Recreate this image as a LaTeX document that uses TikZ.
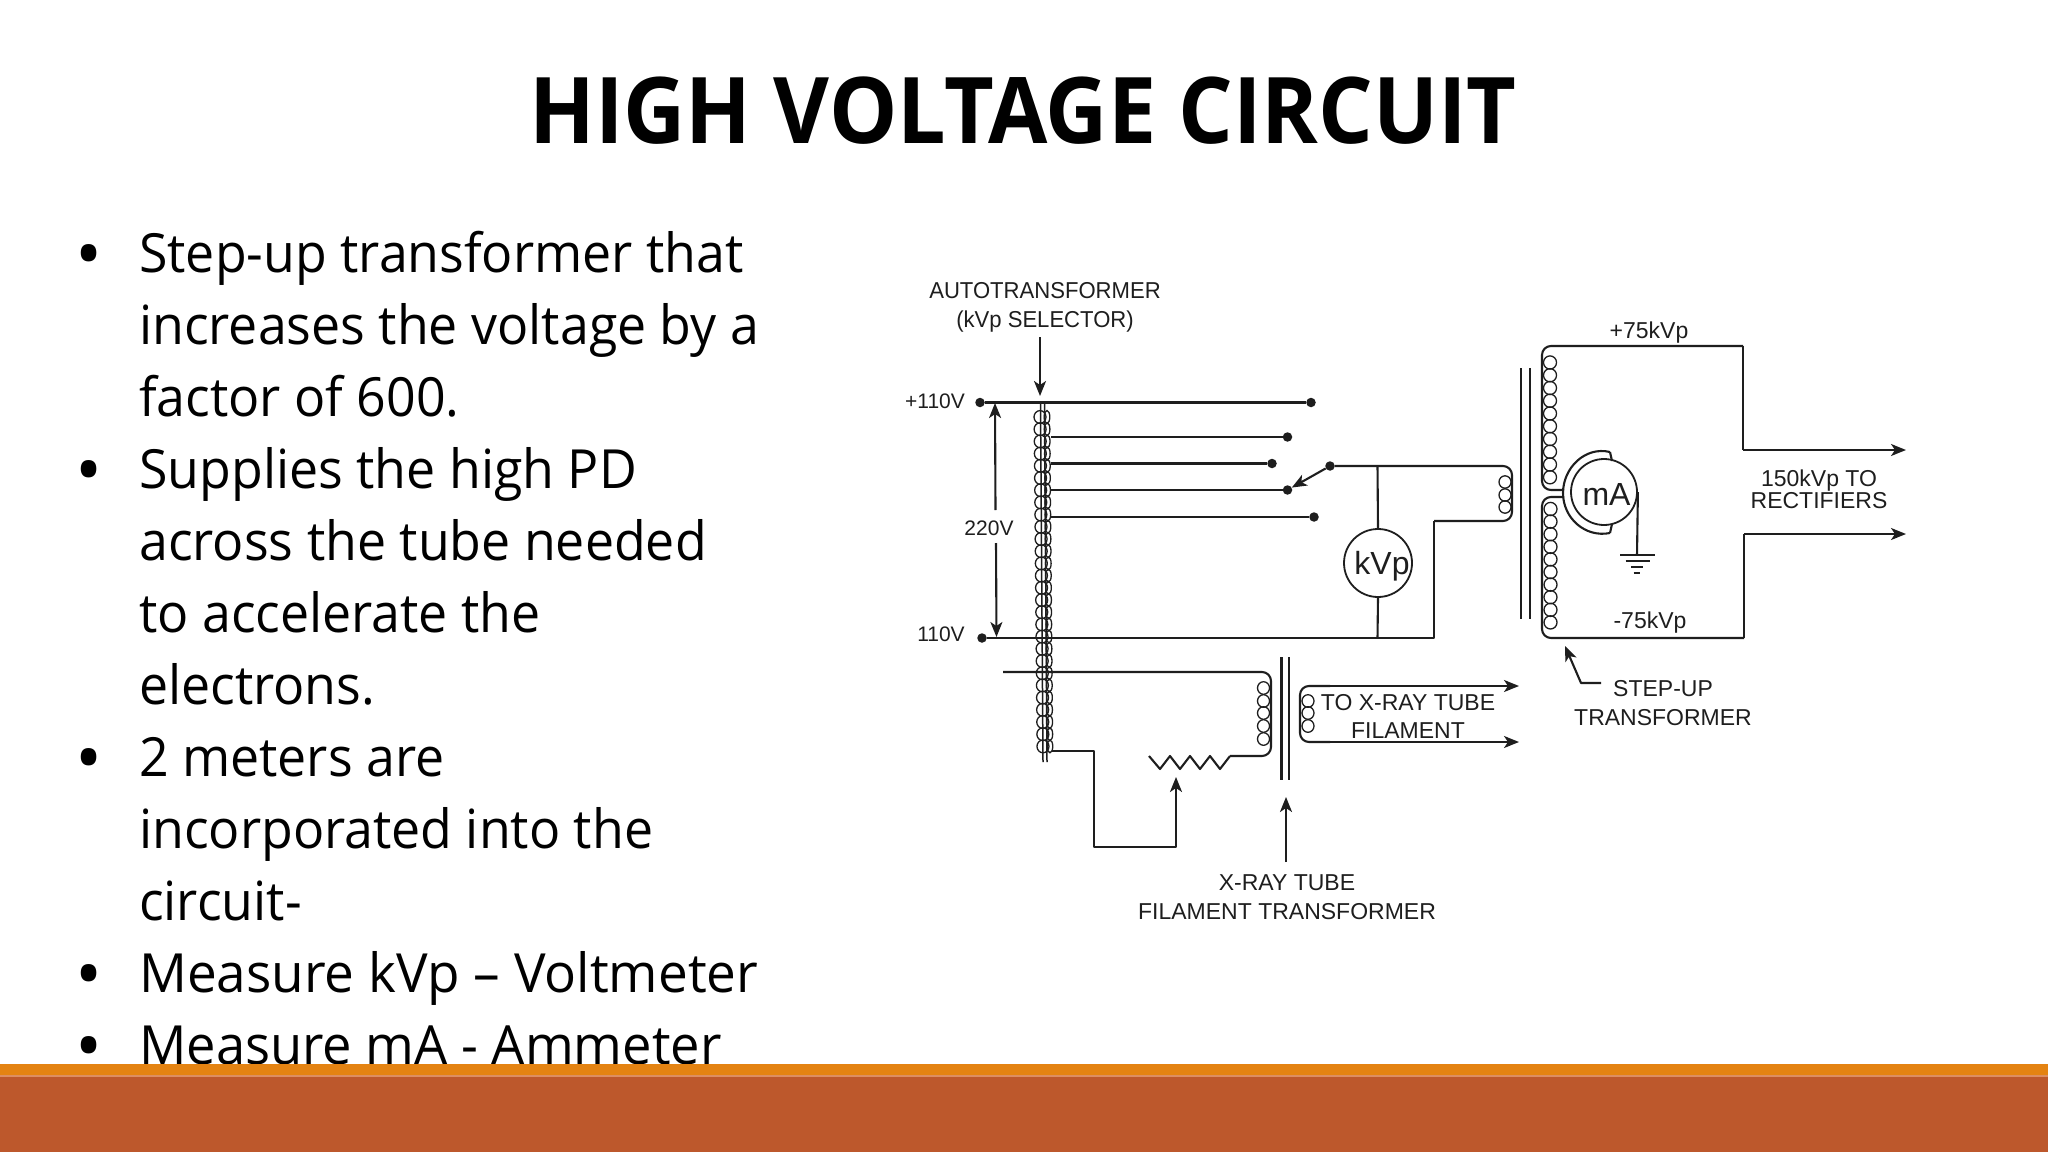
\documentclass[tikz,border=0pt]{standalone}
\usepackage{fontspec}
\setmainfont{Open Sans}
\newfontfamily\bodyfont[FakeStretch=0.96]{Open Sans}
\newfontfamily\titlefont[FakeStretch=0.935]{Open Sans Bold}
\newfontfamily\diagfont{Liberation Sans}
\newfontfamily\narrowdiag[FakeStretch=0.96]{Liberation Sans}
\usetikzlibrary{arrows.meta}
\definecolor{ink}{HTML}{1E1E1E}
\definecolor{bandorange}{HTML}{E48312}
\definecolor{bandred}{HTML}{BD582C}
\definecolor{bandline}{HTML}{DC8E62}
\tikzset{
  wire/.style={draw=ink,line width=2.1pt,line join=round},
  thin wire/.style={draw=ink,line width=1.5pt},
  coil/.style={draw=ink,line width=1.3pt},
  round wire/.style={wire,rounded corners=9pt},
  arrowed/.style={wire,-{Stealth[length=15pt,width=12pt,inset=4pt]}},
  dotn/.style={circle,fill=ink,inner sep=0pt,minimum size=9.5pt},
  lab/.style={font=\diagfont\fontsize{23}{23}\selectfont,text=ink,inner sep=0pt,align=center},
  smalllab/.style={font=\diagfont\fontsize{21}{21}\selectfont,text=ink,inner sep=0pt,align=center},
  narrowlab/.style={font=\narrowdiag\fontsize{23}{23}\selectfont,text=ink,inner sep=0pt,align=center},
  meter/.style={circle,draw=ink,line width=1.8pt,inner sep=0pt},
  meterlab/.style={inner sep=0pt,font=\diagfont\fontsize{32}{32}\selectfont,text=ink},
  body/.style={anchor=base west,inner sep=0pt,font=\bodyfont\fontsize{54}{54}\selectfont,text=black},
  bul/.style={anchor=base,inner sep=0pt,font=\fontsize{72}{72}\selectfont,text=black},
}
\begin{document}
\begin{tikzpicture}[x=1pt,y=-1pt]
\useasboundingbox (0,0) rectangle (2048,1153);
\fill[white] (0,0) rectangle (2048,1153);

% title
\node[anchor=base,inner sep=0pt,font=\titlefont\fontsize{92}{92}\selectfont,text=black] (title) at (1023,143) {HIGH VOLTAGE CIRCUIT};

% bullets
\foreach \nm/\yy/\tx in {
 t1/272/{Step-up transformer that},
 t2/344/{increases the voltage by a},
 t3/416/{factor of 600.},
 t4/488/{Supplies the high PD},
 t5/560/{across the tube needed},
 t6/632/{to accelerate the},
 t7/704/{electrons.},
 t8/776/{2 meters are},
 t9/848/{incorporated into the},
 t10/920/{circuit-}}
 {\node[body] (\nm) at (139,\yy) {\tx};}
\node[body,transform shape,xscale=1.024] (t11) at (139,992) {Measure kVp – Voltmeter};
\node[body,transform shape,xscale=1.012] (t12) at (139,1064) {Measure mA - Ammeter};
\foreach \nm/\yy in {b1/279,b4/495,b8/783,b11/999,b12/1071}
 {\node[bul] (\nm) at (89,\yy) {•};}

% bottom band
\fill[bandorange] (0,1064) rectangle (2048,1075);
\fill[bandline] (0,1075) rectangle (2048,1076.5);
\fill[bandred] (0,1076.5) rectangle (2048,1152);

% labels
\node[narrowlab] (auto) at (1045,307) {AUTOTRANSFORMER\\[6pt](kVp SELECTOR)};
\node[smalllab] (p110) at (935,401) {+110V};
\node[smalllab] (n110) at (941,634) {110V};
\node[smalllab] (v220) at (989,528) {220V};
\node[lab] (p75) at (1649,332.5) {+75kVp};
\node[lab] (n75) at (1650,623) {-75kVp};
\node[lab] (rect) at (1819,489) {150kVp TO\\[-1pt]RECTIFIERS};
\node[lab] (stepup) at (1663,703) {STEP-UP\\[6pt]TRANSFORMER};
\node[lab] (toxray) at (1408,716) {TO X-RAY TUBE\\[5pt]FILAMENT};
\node[lab] (filtr) at (1287,897) {X-RAY TUBE\\[6pt]FILAMENT TRANSFORMER};

% autotransformer core and coil
\draw[thin wire] (1040.5,403) -- (1043,762);
\draw[thin wire] (1044.5,403) -- (1047,762);
\foreach \i in {0,...,27}{
  \pgfmathsetmacro{\yy}{417+12.2*\i}
  \pgfmathsetmacro{\xx}{1040+0.009*(\yy-417)}
  \draw[coil] (\xx,\yy) ellipse [x radius=6pt,y radius=6.4pt];
  \draw[coil] (\xx+7,\yy) ellipse [x radius=2.8pt,y radius=6.4pt];
}

% named points
\node[dotn] (dA) at (980,402.5) {};
\node[dotn] (dB) at (1311,402.5) {};
\node[dotn] (t1e) at (1287.5,437) {};
\node[dotn] (t2e) at (1272,463.5) {};
\node[dotn] (t3e) at (1287.5,490) {};
\node[dotn] (t4e) at (1314,517) {};
\node[dotn] (sw) at (1330,466) {};
\node[dotn] (dC) at (982,638) {};
\coordinate (t1s) at (1051,437);
\coordinate (t2s) at (1051,463.5);
\coordinate (t3s) at (1051,490);
\coordinate (t4s) at (1051,517);

\draw[wire] (dA) -- (dB);
\draw[wire] (t1s) -- (t1e);
\draw[wire] (t2s) -- (t2e);
\draw[wire] (t3s) -- (t3e);
\draw[wire] (t4s) -- (t4e);
\draw[arrowed] (sw) -- (t3e);

% pointer arrows
\coordinate (autoTip) at (1040,396);
\draw[arrowed] (1040,337) -- (autoTip);
\draw[arrowed] (995.5,510) -- (995,403);
\draw[arrowed] (996,543) -- (996.5,637);

% voltmeter and primary
\node[meter,minimum size=68pt] (kvp) at (1378,563) {};
\node[meterlab] (kvpl) at (1382,566) {kVp};
\draw[wire] (1377.5,466) -- (kvp.north);
\draw[wire] (kvp.south) -- (1377.5,638);
\draw[round wire] (sw) -- (1512,466) -- (1512,521) -- (1434,521);
\draw[wire] (1434,521) -- (1434,638) -- (dC);
\foreach \yy in {482,495,507}
  \draw[coil] (1505,\yy) ellipse [x radius=6pt,y radius=6.2pt];

% step-up core
\draw[wire] (1521,368) -- (1521,619);
\draw[wire] (1530,368) -- (1530,619);

% step-up secondary
\foreach \i in {0,...,9}{
  \pgfmathsetmacro{\yy}{362.5+12.75*\i}
  \draw[coil] (1550,\yy) ellipse [x radius=6.5pt,y radius=6.6pt];
  \pgfmathsetmacro{\yz}{509+12.6*\i}
  \draw[coil] (1550.5,\yz) ellipse [x radius=6.5pt,y radius=6.6pt];
}
\coordinate (out1) at (1906,450);
\coordinate (out2) at (1906,534);
\draw[wire,rounded corners=9pt] (1743,346) -- (1542,346) -- (1542,490) -- (1564,490);
\draw[wire] (1743,346) -- (1743,450);
\draw[arrowed] (1743,450) -- (out1);
\draw[wire,rounded corners=9pt] (1564,497) -- (1542,497) -- (1542,638) -- (1744,638);
\draw[wire] (1744,638) -- (1744,534);
\draw[arrowed] (1744,534) -- (out2);

% milliammeter
\node[meter,minimum size=66pt] (ma) at (1604,492) {};
\node[meterlab] (mal) at (1606.5,494) {mA};
\draw[wire] (1610,452) .. controls (1585,446) and (1563,468) .. (1563,493) .. controls (1563,518) and (1585,538) .. (1610,533);
\draw[wire] (1610,452) -- (1612,461);
\draw[wire] (1610,533) -- (1612,524);

% ground
\coordinate (gnd) at (1637,555);
\draw[wire] (ma.east) -- (gnd);
\draw[wire] (1620,555) -- (1655,555);
\draw[wire] (1625.5,561) -- (1650,561);
\draw[wire] (1631,567) -- (1643,567);
\draw[wire] (1633.5,573) -- (1640,573);

% step-up pointer
\coordinate (suTip) at (1565,646);
\draw[wire,-{Stealth[length=15pt,width=12pt,inset=4pt]}] (1601,683) -- (1581,683) -- (suTip);

% filament circuit
\draw[round wire] (1003,672) -- (1271,672) -- (1271,756) -- (1230,756);
\foreach \yy in {688,701,713,726,739}
  \draw[coil] (1263.5,\yy) ellipse [x radius=6pt,y radius=6.3pt];
\draw[wire] (1230,756) -- (1220,769) -- (1210,756) -- (1200,769) -- (1190,756) -- (1180,769) -- (1170,756) -- (1160,769) -- (1149,756);
\coordinate (wiper) at (1176,777);
\draw[arrowed] (1052,751) -- (1094,751) -- (1094,847) -- (1176,847) -- (wiper);

\draw[wire] (1281.5,657) -- (1281.5,780);
\draw[wire] (1289,657) -- (1289,780);
\draw[arrowed] (1286,862) -- (1286,797);

% filament secondary
\foreach \yy in {701,713,726}
  \draw[coil] (1308,\yy) ellipse [x radius=6pt,y radius=6.3pt];
\coordinate (fil1) at (1519,686);
\coordinate (fil2) at (1519,742);
\draw[round wire] (1330,686) -- (1300,686) -- (1300,742) -- (1330,742);
\draw[arrowed] (1330,686) -- (fil1);
\draw[arrowed] (1330,742) -- (fil2);
\end{tikzpicture}
\end{document}
